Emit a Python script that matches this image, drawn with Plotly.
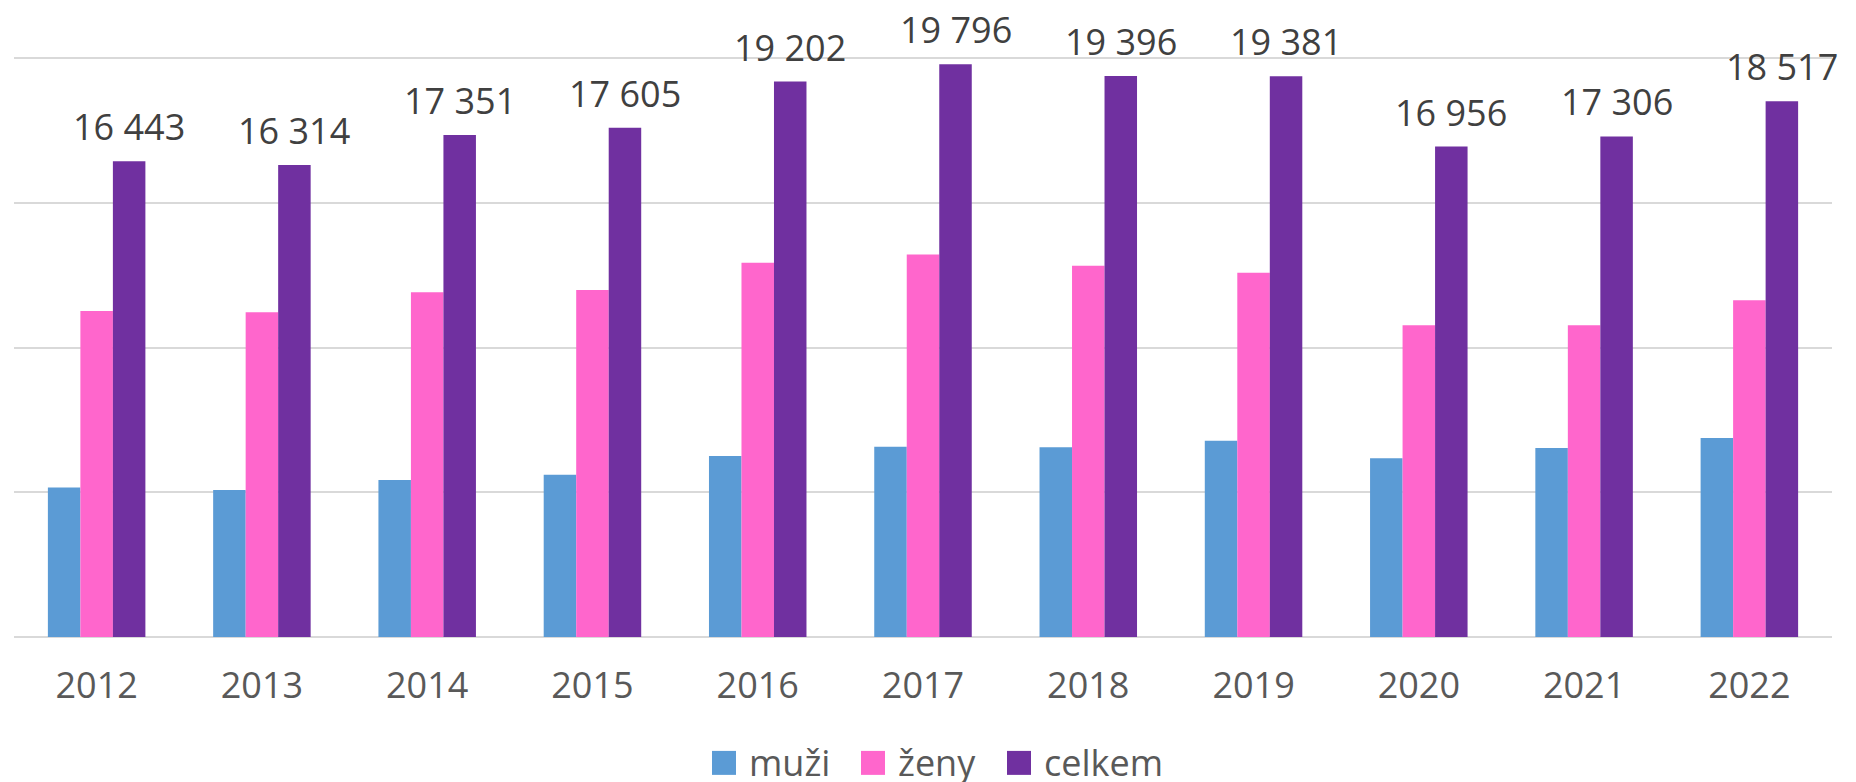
import plotly.graph_objects as go

years = ["2012", "2013", "2014", "2015", "2016", "2017", "2018", "2019", "2020", "2021", "2022"]
muzi = [5170, 5080, 5430, 5610, 6260, 6575, 6560, 6785, 6180, 6530, 6875]
zeny = [11270, 11230, 11920, 11995, 12940, 13220, 12835, 12595, 10775, 10775, 11640]
celkem = [16443, 16314, 17351, 17605, 19202, 19796, 19396, 19381, 16956, 17306, 18517]

series_names = ["muži", "ženy", "celkem"]
series_colors = ["#5B9BD5", "#FF66CC", "#7030A0"]

celkem_labels = [f"{v:,}".replace(",", " ") for v in celkem]

FONT = "Open Sans"
W, H = 1848, 774
ML, MR, MT, MB = 6, 24, 48.5, 145
BARGAP = 0.41
plot_w = W - ML - MR
plot_h = H - MT - MB
bar_px = plot_w / len(years) * (1 - BARGAP) / 3

fig = go.Figure()
for name, vals, col in zip(series_names, [muzi, zeny, celkem], series_colors):
    fig.add_trace(go.Bar(name=name, x=years, y=vals, showlegend=False,
                         marker=dict(color=col, line=dict(width=0))))

# data labels above the "celkem" bars (x given as category index)
for idx, (v, lab) in enumerate(zip(celkem, celkem_labels)):
    fig.add_annotation(x=idx, y=v, xref="x", yref="y", text=lab, showarrow=False,
                       xanchor="center", yanchor="bottom", xshift=bar_px, yshift=8,
                       font=dict(family=FONT, size=36, color="#404040"))

# legend (large square keys like the original)
leg_sq_x = [704, 853, 999]   # left edge of each key square in figure px
leg_sq = 24
leg_y_top = 743
for i, (name, col) in enumerate(zip(series_names, series_colors)):
    x0 = (leg_sq_x[i] - ML) / plot_w
    x1 = (leg_sq_x[i] + leg_sq - ML) / plot_w
    y0 = (H - MB - leg_y_top) / plot_h
    y1 = (H - MB - leg_y_top - leg_sq) / plot_h
    fig.add_shape(type="rect", xref="paper", yref="paper", x0=x0, x1=x1, y0=y1, y1=y0,
                  fillcolor=col, line=dict(width=0))
    fig.add_annotation(xref="paper", yref="paper", x=(leg_sq_x[i] + leg_sq + 11 - ML) / plot_w,
                       y=(y0 + y1) / 2, text=name, showarrow=False,
                       xanchor="left", yanchor="middle",
                       font=dict(family=FONT, size=36, color="#595959"))

fig.update_layout(
    width=W, height=H,
    margin=dict(l=ML, r=MR, t=MT, b=MB, autoexpand=False),
    paper_bgcolor="white", plot_bgcolor="white",
    barmode="group", bargap=BARGAP, bargroupgap=0,
    font=dict(family=FONT, color="#595959"),
    showlegend=False,
    xaxis=dict(type="category", range=[-0.5, len(years) - 0.5], showgrid=False, showline=False,
               ticks="outside", ticklen=17, tickcolor="rgba(0,0,0,0)",
               tickfont=dict(family=FONT, size=36, color="#595959"), automargin=False),
    yaxis=dict(range=[0, 20050], tickvals=[0, 5000, 10000, 15000, 20000], showticklabels=False,
               showgrid=True, gridcolor="#D9D9D9", gridwidth=1.5, zeroline=True,
               zerolinecolor="#D9D9D9", zerolinewidth=1.5, showline=False, automargin=False),
)

fig.write_html("out.html")
